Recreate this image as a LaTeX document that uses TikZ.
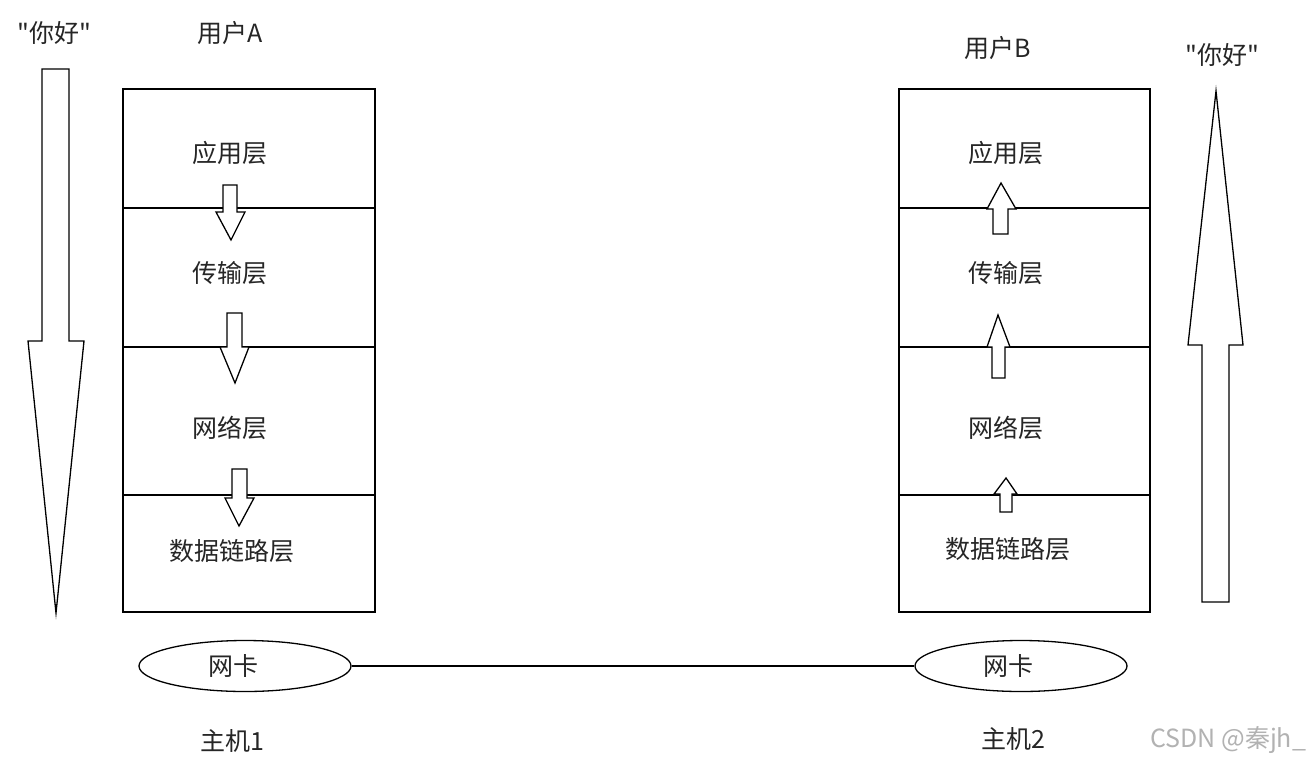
\documentclass[tikz,border=0pt]{standalone}
\usepackage{fontspec}
\newfontfamily\cjk{Noto Sans CJK SC}
\usetikzlibrary{positioning,shapes.geometric}

\begin{document}
\begin{tikzpicture}[x=0.5pt,y=-0.5pt,
  lbl/.style={font=\cjk\fontsize{12.5}{15}\selectfont,text=black!85,inner sep=0pt},
  layerbox/.style={draw,line width=0.65pt},
  blockarrow/.style={draw,line width=0.65pt,fill=white},
  nic/.style={draw,ellipse,line width=0.65pt,minimum width=106pt,minimum height=25.5pt,inner sep=0pt}]
\useasboundingbox[fill=white] (0,0) rectangle (1306,760);

% host 1
\draw[layerbox] (123,89) rectangle (375,612);
\draw[layerbox] (123,208) -- (375,208);
\draw[layerbox] (123,347) -- (375,347);
\draw[layerbox] (123,495) -- (375,495);
\node[lbl] (userA) at (230,33) {用户A};
\node[lbl] (appA) at (230,153) {应用层};
\node[lbl] (transA) at (230,273) {传输层};
\node[lbl] (netA) at (230,428) {网络层};
\node[lbl] (linkA) at (232,551) {数据链路层};
\draw[blockarrow] (223,185) -- (237,185) -- (237,212) -- (245,212) -- (231,240) -- (216,212) -- (223,212) -- cycle;
\draw[blockarrow] (227,313) -- (242,313) -- (242,347) -- (249,347) -- (235,383) -- (220,347) -- (227,347) -- cycle;
\draw[blockarrow] (232,469) -- (247,469) -- (247,498) -- (254,498) -- (239,526) -- (225,498) -- (232,498) -- cycle;

% host 2
\draw[layerbox] (899,89) rectangle (1150,612);
\draw[layerbox] (899,208) -- (1150,208);
\draw[layerbox] (899,347) -- (1150,347);
\draw[layerbox] (899,495) -- (1150,495);
\node[lbl] (userB) at (998,48) {用户B};
\node[lbl] (appB) at (1006,153) {应用层};
\node[lbl] (transB) at (1006,273) {传输层};
\node[lbl] (netB) at (1006,428) {网络层};
\node[lbl] (linkB) at (1008,549) {数据链路层};
\draw[blockarrow] (993,234) -- (1008,234) -- (1008,209) -- (1016,209) -- (1001,183) -- (987,209) -- (993,209) -- cycle;
\draw[blockarrow] (992,378) -- (1005,378) -- (1005,347) -- (1010,347) -- (998,315) -- (987,347) -- (992,347) -- cycle;
\draw[blockarrow] (1000,512) -- (1012,512) -- (1012,494) -- (1017,494) -- (1006,478) -- (994,494) -- (1000,494) -- cycle;

% message going down and up
\node[lbl] (msgA) at (54,33) {"你好"};
\draw[blockarrow] (42,69) -- (69,69) -- (69,341) -- (84,341) -- (56,613) -- (28,341) -- (42,341) -- cycle;
\node[lbl] (msgB) at (1222,55) {"你好"};
\draw[blockarrow] (1202,602) -- (1229,602) -- (1229,345) -- (1243,345) -- (1216,91) -- (1188,345) -- (1202,345) -- cycle;

% network cards
\node[nic,lbl] (nic1) at (245,666) {};
\node[lbl] (nic1txt) at (233,666) {网卡};
\node[nic,lbl] (nic2) at (1021,666) {};
\node[lbl] (nic2txt) at (1008,666) {网卡};
\draw[line width=0.65pt] (nic1) -- (nic2);
\node[lbl] (host1) at (232,741) {主机1};
\node[lbl] (host2) at (1013,739) {主机2};

\node[lbl,text=black!30,anchor=west] (mark) at (1150,740) {CSDN @秦jh\_};
\end{tikzpicture}
\end{document}
